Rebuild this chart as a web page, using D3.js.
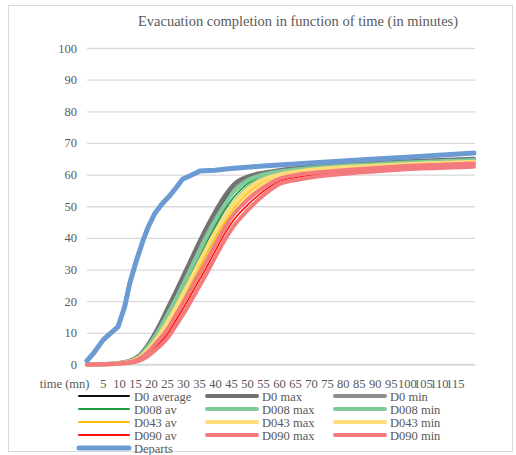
<!DOCTYPE html>
<html>
<head>
<meta charset="utf-8">
<script src="https://cdn.jsdelivr.net/npm/d3@7/dist/d3.min.js"></script>
<style>
html,body{margin:0;padding:0;background:#fff;}
svg{display:block;}
svg text{font-family:"Liberation Serif","Times New Roman","DejaVu Serif",serif !important;fill:#595959;}
</style>
</head>
<body>
<svg id="chart" width="516" height="455" font-family="Liberation Serif"></svg>
<script>
// ---- data ----
const title = "Evacuation completion in function of time (in minutes)";
const yTicks = [0,10,20,30,40,50,60,70,80,90,100];
const xTickValues = [0,5,10,15,20,25,30,35,40,45,50,55,60,65,70,75,80,85,90,95,100,105,110,115];
const xTickLabels = ["time (mn)","5","10","15","20","25","30","35","40","45","50","55","60","65","70","75","80","85","90","95","100","105","110","115"];

const times = [0,5,10,13,16,19,22,25,28,31,34,37,40,43,46,50,55,60,65,70,80,90,100,110,121];

const d0Av   = [0,0.1,0.4,0.9,2.2,5.4,10,15.6,21.6,27.8,34,40.4,46.3,51.8,56.2,58.8,60.2,61.1,61.7,62.2,62.9,63.4,63.9,64.3,64.7];
const d0Max  = [0,0.15,0.5,1.1,2.6,6.2,11.3,17.4,23.6,30,36.4,42.6,48.2,53.2,57,59.3,60.6,61.4,62,62.5,63.2,63.7,64.2,64.6,65];
const d0Min  = [0,0.07,0.3,0.7,1.8,4.7,8.9,14,19.7,25.7,31.8,38.2,44.3,50.2,55.2,58.3,59.9,60.8,61.4,61.9,62.6,63.1,63.6,64,64.4];

const d008Av  = [0,0.08,0.35,0.8,1.9,4.6,8.6,13.8,19.3,25.3,31.2,37.4,43.3,48.6,53,57,59.4,60.6,61.3,61.8,62.5,63,63.5,63.9,64.3];
const d008Max = [0,0.1,0.45,1,2.3,5.6,10.1,15.5,21.1,27.3,33.4,39.6,45.4,50.6,54.7,58,60,61,61.6,62.1,62.8,63.3,63.8,64.2,64.6];
const d008Min = [0,0.06,0.28,0.6,1.5,3.8,7.4,12.3,17.5,23.3,29,35.2,41.1,46.6,51.2,55.8,58.8,60.2,61,61.5,62.2,62.7,63.2,63.6,64];

const d043Av  = [0,0.06,0.3,0.7,1.6,3.9,7.2,11.6,16.7,22.3,28,34,39.6,44.8,49.4,53.9,57.6,59.5,60.5,61.1,61.9,62.5,63,63.4,63.8];
const d043Max = [0,0.08,0.38,0.85,1.9,4.7,8.5,13.2,18.5,24.3,30.1,36,41.6,46.6,51,55.2,58.4,60,60.9,61.5,62.3,62.8,63.3,63.7,64.1];
const d043Min = [0,0.05,0.24,0.55,1.3,3.2,6.1,10.1,14.9,20.4,25.9,31.9,37.6,42.9,47.7,52.5,56.7,58.9,60,60.7,61.5,62.1,62.6,63,63.4];

const d090Av  = [0,0.05,0.25,0.55,1.3,3.2,6.1,9.4,14.3,19.3,24.7,30,35.7,41.2,45.8,50.2,54.6,57.9,59,59.8,60.8,61.6,62.2,62.6,63];
const d090Max = [0,0.07,0.32,0.7,1.6,3.9,7.2,10.9,16,21.2,26.7,32,37.7,43.1,47.6,51.8,55.8,58.6,59.8,60.5,61.4,62.1,62.7,63.1,63.5];
const d090Min = [0,0.04,0.2,0.45,1.05,2.6,5.1,8.1,12.6,17.4,22.7,28,33.7,39.2,43.9,48.5,53.3,56.9,58.2,59.1,60.2,61,61.7,62.1,62.5];

const departTimes = [0,2,5,7.5,9.7,11.8,13.4,15.5,17.6,19.2,21.3,23.5,26,28,29.8,32.4,35.3,40,45,50,55,60,70,80,90,100,110,121];
const departs     = [1.2,3.5,7.7,10,11.9,18.3,25.8,33,39.4,43.6,47.9,50.8,53.5,56,58.5,59.7,61.1,61.4,61.9,62.3,62.7,63,63.7,64.3,64.9,65.5,66.1,66.8];

const seriesNames = ["D0 average","D0 max","D0 min","D008 av","D008 max","D008 min","D043 av","D043 max","D043 min","D090 av","D090 max","D090 min","Departs"];
const seriesValues = [d0Av,d0Max,d0Min,d008Av,d008Max,d008Min,d043Av,d043Max,d043Min,d090Av,d090Max,d090Min,departs];

// ---- styles ----
const colors = ["#111111","#727272","#8e8e8e","#1e9b3b","#7fcb99","#7fcb99","#ffc000","#ffdb7a","#ffdb7a","#ff1010","#f37b7d","#f37b7d","#6b9bd2"];
const widths = [1.6,4,4,1.6,4,4,1.6,4,4,1.6,4,4,5];
const FONT = "'Liberation Serif','Times New Roman','DejaVu Serif',serif";

// ---- chart ----
const svg = d3.select("#chart");
svg.append("rect").attr("x",8.5).attr("y",5.5).attr("width",504).attr("height",446)
  .attr("fill","#fff").attr("stroke","#d9d9d9").attr("stroke-width",1);

const x = d3.scaleLinear().domain([0,121]).range([87,474]);
const y = d3.scaleLinear().domain([0,100]).range([364.5,48]);

svg.append("text").attr("x",298).attr("y",26).attr("text-anchor","middle")
  .style("font-family",FONT).style("font-size","14.5px").text(title);

// gridlines
const yAxis = d3.axisLeft(y).tickValues(yTicks).tickSize(-(475-87)).tickPadding(10).tickFormat(d3.format("d"));
const gy = svg.append("g").attr("transform","translate(87,0)").call(yAxis).attr("font-family",FONT);
gy.select(".domain").remove();
gy.selectAll(".tick line").attr("x1",0).attr("x2",388).attr("stroke","#d9d9d9").attr("stroke-width",1.3);
gy.selectAll(".tick text").style("font-family",FONT).style("font-size","12.5px").attr("fill","#595959").attr("x",-10);

// x axis labels
const xAxis = d3.axisBottom(x).tickValues(xTickValues).tickSize(0).tickPadding(15)
  .tickFormat((d,i)=>xTickLabels[i]);
const gx = svg.append("g").attr("transform","translate(0,364.5)").call(xAxis).attr("font-family",FONT);
gx.select(".domain").remove();
gx.selectAll(".tick text").style("font-family",FONT).style("font-size","12.5px").attr("fill","#595959");
gx.selectAll(".tick text").filter((d,i)=>i===0).attr("text-anchor","end").attr("x",2);
svg.append("line").attr("x1",87).attr("x2",475).attr("y1",364.5).attr("y2",364.5)
  .attr("stroke","#d9d9d9").attr("stroke-width",1.5);

// lines
const lineSmooth = d3.line().x(d=>x(d[0])).y(d=>y(d[1])).curve(d3.curveMonotoneX);
const lineStraight = d3.line().x(d=>x(d[0])).y(d=>y(d[1]));
seriesValues.forEach((vals,i)=>{
  const ts = i===12 ? departTimes : times;
  const pts = vals.map((v,j)=>[ts[j],v]);
  svg.append("path").attr("d", (i===12?lineStraight:lineSmooth)(pts))
    .attr("fill","none").attr("stroke",colors[i]).attr("stroke-width",widths[i])
    .attr("stroke-linejoin","round").attr("stroke-linecap","round");
});

// legend
const legX = [79,207,335];
const legY0 = 396, legDy = 13;
seriesNames.forEach((name,i)=>{
  const col = i%3, row = Math.floor(i/3);
  const lx = legX[col], ly = legY0 + row*legDy;
  const g = svg.append("g");
  g.append("line").attr("x1",lx).attr("x2",lx+50).attr("y1",ly).attr("y2",ly)
    .attr("stroke",colors[i]).attr("stroke-width",i===12?5:(widths[i]>3?4:2)).attr("stroke-linecap","round");
  g.append("text").attr("x",lx+55).attr("y",ly+4.5).style("font-family",FONT).style("font-size","12.5px").text(name);
});
</script>
</body>
</html>
